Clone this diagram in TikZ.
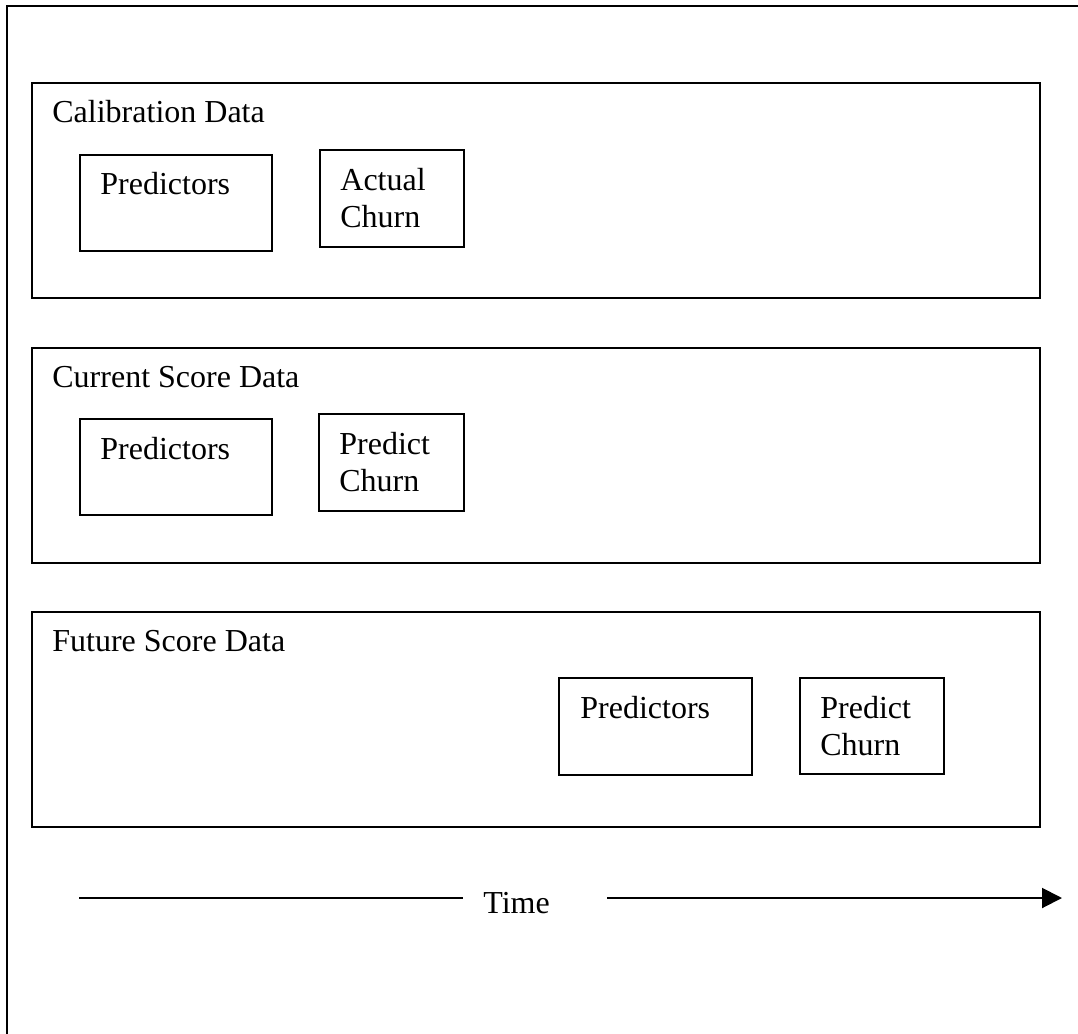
\documentclass[tikz,border=0pt]{standalone}
\usepackage{fontspec}
\setmainfont{Liberation Serif}
\usetikzlibrary{arrows.meta}

\tikzset{
  lines/.style={line width=1pt, draw=black},
  panel/.style={lines, rectangle, anchor=north west, inner sep=0pt,
    minimum width=504pt, minimum height=107.5pt},
  databox/.style={lines, rectangle, anchor=north west, inner sep=0pt},
  lbl/.style={anchor=base west, inner sep=0pt, font=\fontsize{16}{18.5}\selectfont},
}

\begin{document}
\begin{tikzpicture}[x=0.5pt, y=-0.5pt]
\useasboundingbox (0,0) rectangle (1078,1034);

% page frame: only the left and top edges show
\draw[lines] (7,1034) -- (7,6) -- (1078,6);

% calibration panel
\node[panel] (calib) at (31,82) {};
\node[lbl] (calibT) at ([xshift=10.5pt, yshift=-20pt]calib.north west) {Calibration Data};
\node[databox, minimum width=96pt, minimum height=48pt] (p1) at (79,154) {};
\node[lbl] (p1T) at ([xshift=10.5pt, yshift=-20pt]p1.north west) {Predictors};
\node[databox, minimum width=72pt, minimum height=48.5pt] (a1) at (319,149) {};
\node[lbl] (a1T) at ([xshift=10.5pt, yshift=-20.5pt]a1.north west) {Actual};
\node[lbl] (a1U) at ([xshift=10.5pt, yshift=-39pt]a1.north west) {Churn};

% current score panel
\node[panel] (curr) at (31,347) {};
\node[lbl] (currT) at ([xshift=10.5pt, yshift=-20pt]curr.north west) {Current Score Data};
\node[databox, minimum width=96pt, minimum height=48pt] (p2) at (79,418) {};
\node[lbl] (p2T) at ([xshift=10.5pt, yshift=-20.5pt]p2.north west) {Predictors};
\node[databox, minimum width=72.5pt, minimum height=48.5pt] (c2) at (318,413) {};
\node[lbl] (c2T) at ([xshift=10.5pt, yshift=-20.5pt]c2.north west) {Predict};
\node[lbl] (c2U) at ([xshift=10.5pt, yshift=-39pt]c2.north west) {Churn};

% future score panel
\node[panel] (fut) at (31,611) {};
\node[lbl] (futT) at ([xshift=10.5pt, yshift=-20pt]fut.north west) {Future Score Data};
\node[databox, minimum width=96.5pt, minimum height=48.5pt] (p3) at (558,677) {};
\node[lbl] (p3T) at ([xshift=11pt, yshift=-20.5pt]p3.north west) {Predictors};
\node[databox, minimum width=72pt, minimum height=48pt] (c3) at (799,677) {};
\node[lbl] (c3T) at ([xshift=10.5pt, yshift=-20.5pt]c3.north west) {Predict};
\node[lbl] (c3U) at ([xshift=10.5pt, yshift=-39pt]c3.north west) {Churn};

% time axis
\coordinate (t0) at (79,898);
\coordinate (t1) at (463,898);
\coordinate (t2) at (607,898);
\coordinate (t3) at (1062,898);
\node[lbl] (time) at (483,913) {Time};
\draw[lines] (t0) -- (t1);
\draw[lines, -{Triangle[length=10pt, width=10pt]}] (t2) -- (t3);
\end{tikzpicture}
\end{document}
